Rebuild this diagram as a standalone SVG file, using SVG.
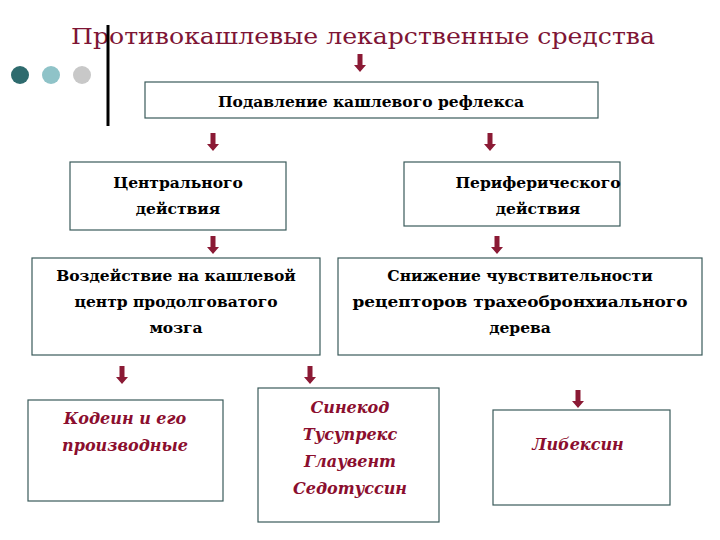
<svg xmlns="http://www.w3.org/2000/svg" width="720" height="540" viewBox="0 0 720 540">
<defs>
<style>
.s{font-family:"DejaVu Serif","Liberation Serif",serif}
.b{fill:#fff;stroke:#3a5a5a;stroke-width:1.2}
.t{font-family:"DejaVu Serif","Liberation Serif",serif;font-weight:bold;font-size:15.5px;fill:#000;text-anchor:middle}
.r{font-family:"DejaVu Serif","Liberation Serif",serif;font-weight:bold;font-style:italic;font-size:16px;fill:#8b0e2e;text-anchor:middle}
.a{fill:#8b1a35}
</style>
<path id="ar" d="M-2.5,0 h5 v11 h3.5 l-6,7 l-6,-7 h3.5z"/>
</defs>
<rect width="720" height="540" fill="#fff"/>
<text class="s" x="71" y="44" font-size="23" fill="#7e1535" textLength="584" lengthAdjust="spacingAndGlyphs">Противокашлевые лекарственные средства</text>
<line x1="108" y1="25" x2="108" y2="126" stroke="#000" stroke-width="3"/>
<circle cx="20" cy="75" r="9" fill="#2e6b6e"/>
<circle cx="51" cy="75" r="9" fill="#8fc3c8"/>
<circle cx="82" cy="75" r="9" fill="#c8c8c8"/>
<g id="connectors" class="a">
<use href="#ar" x="360" y="54"/>
<use href="#ar" x="213" y="133"/>
<use href="#ar" x="490" y="133"/>
<use href="#ar" x="213" y="236"/>
<use href="#ar" x="497" y="236"/>
<use href="#ar" x="122" y="366"/>
<use href="#ar" x="310" y="366"/>
<use href="#ar" x="578" y="390"/>
</g>
<g id="n1"><rect class="b" x="145" y="82" width="453" height="36"/><text class="t" x="371" y="107">Подавление кашлевого рефлекса</text></g>
<g id="n2"><rect class="b" x="70" y="162" width="216" height="68"/><text class="t" x="178" y="188">Центрального</text><text class="t" x="178" y="214">действия</text></g>
<g id="n3"><rect class="b" x="404" y="162" width="216" height="64"/><text class="t" x="538" y="188">Периферического</text><text class="t" x="538" y="214">действия</text></g>
<g id="n4"><rect class="b" x="32" y="258" width="288" height="97"/><text class="t" x="176" y="281">Воздействие на кашлевой</text><text class="t" x="176" y="307">центр продолговатого</text><text class="t" x="176" y="333">мозга</text></g>
<g id="n5"><rect class="b" x="338" y="258" width="364" height="97"/><text class="t" x="520" y="281">Снижение чувствительности</text><text class="t" x="520" y="307" textLength="335" lengthAdjust="spacingAndGlyphs">рецепторов трахеобронхиального</text><text class="t" x="520" y="333">дерева</text></g>
<g id="n6"><rect class="b" x="28" y="400" width="195" height="101"/><text class="r" x="125" y="424">Кодеин и его</text><text class="r" x="125" y="451">производные</text></g>
<g id="n7"><rect class="b" x="258" y="388" width="181" height="134"/><text class="r" x="350" y="413">Синекод</text><text class="r" x="350" y="440">Тусупрекс</text><text class="r" x="350" y="467">Глаувент</text><text class="r" x="350" y="494">Седотуссин</text></g>
<g id="n8"><rect class="b" x="493" y="410" width="177" height="95"/><text class="r" x="578" y="450">Либексин</text></g>
</svg>
